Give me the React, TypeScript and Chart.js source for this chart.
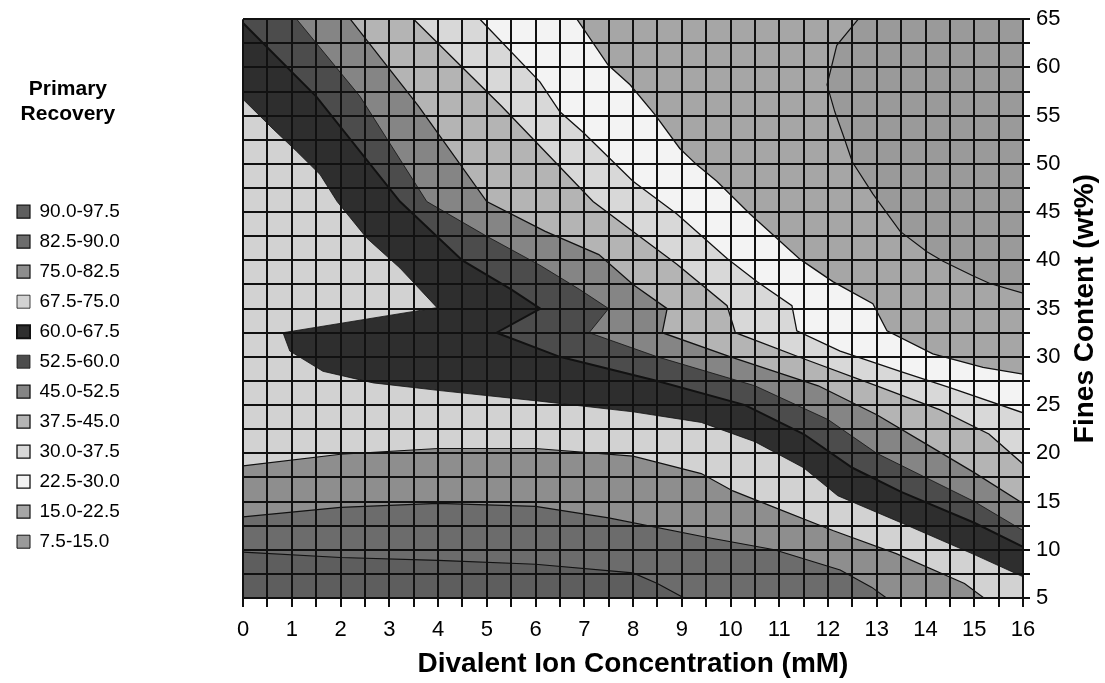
import React, { useEffect, useRef } from 'react';
import { Chart, registerables } from 'chart.js';

Chart.register(...registerables);

// ---- data -------------------------------------------------------------
// Recovery bands (legend order, highest first)
const bandLabels = [
  '90.0-97.5', '82.5-90.0', '75.0-82.5', '67.5-75.0', '60.0-67.5', '52.5-60.0',
  '45.0-52.5', '37.5-45.0', '30.0-37.5', '22.5-30.0', '15.0-22.5', '7.5-15.0',
];

// Contour lines [divalent ion (mM), fines content (wt%)], each bounding the
// region of higher recovery that lies toward the lower-left of the plot.
const contour90: number[][] = [[0, 9.75], [2, 9.2], [4, 8.9], [6, 8.5], [8, 7.6], [8.5, 6.5], [9.05, 5]];
const contour82: number[][] = [[0, 13.4], [2, 14.4], [4, 14.8], [6, 14.5], [7.5, 13.3], [9.5, 11.3], [10.9, 10.0], [12.25, 7.9], [12.9, 6.1], [13.2, 5]];
const contour75: number[][] = [[0, 18.7], [2, 19.9], [4, 20.5], [6, 20.5], [8, 19.7], [9.4, 17.9], [10.05, 16.1], [10.9, 14.4], [12.1, 12.0], [13.4, 9.6], [14.8, 6.5], [15.2, 5]];
const contour67: number[][] = [[0, 56.7], [0.62, 53.6], [1.1, 51.3], [1.58, 48.9], [1.93, 46.1], [2.54, 42.3], [3.22, 39.2], [3.98, 35.1], [0.82, 32.5], [0.96, 30.6], [1.64, 28.5], [2.67, 27.3], [4.04, 26.5], [6.09, 25.4], [8, 24.3], [9.4, 23.2], [10.5, 21.2], [11.5, 18.5], [12.2, 15.6], [13.5, 12.8], [15, 9.5], [16, 7.2]];
const contour60: number[][] = [[0, 64.6], [1.5, 57], [3.22, 46.1], [4.5, 40], [5.5, 37], [6.1, 35], [5.2, 32.5], [6.5, 30], [8.5, 27.5], [10.3, 25], [11.5, 22], [12.5, 18.5], [13.5, 16], [15, 12.8], [16, 10.3]];
const contour52: number[][] = [[0, 65], [1.1, 65], [2.4, 57], [3.77, 46.1], [5.0, 42.5], [6.09, 39.5], [6.9, 37], [7.5, 35], [7.1, 32.5], [8.5, 30], [10.5, 27], [12, 23.5], [13, 20], [14, 17.5], [15, 15], [16, 12]];
const contour45: number[][] = [[0, 65], [2.2, 65], [3.6, 56], [5.0, 46.1], [6.2, 43], [7.3, 40.6], [8.0, 37.5], [8.7, 35], [8.6, 32.5], [10, 30], [11.8, 27], [13, 24], [14, 21], [15, 18], [16, 14.8]];
const contour37: number[][] = [[0, 65], [3.5, 65], [5.3, 56], [7.18, 46.1], [8.0, 43], [8.9, 39.6], [9.93, 35.3], [10.1, 32.5], [11.5, 29.8], [13, 27], [14.3, 24.5], [15.3, 22], [16, 18.9]];
const contour30: number[][] = [[0, 65], [4.86, 65], [6.09, 58.5], [6.5, 55.4], [6.97, 53.3], [8.0, 48.2], [8.9, 44.8], [9.93, 40.2], [10.54, 37.8], [11.26, 35.3], [11.36, 32.7], [12.25, 30.6], [13.48, 28.5], [14.5, 26.8], [16, 24.2]];
const contour22: number[][] = [[0, 65], [6.85, 65], [7.49, 60.25], [7.94, 58.2], [8.45, 55.1], [8.96, 51.6], [9.31, 49.9], [9.72, 48.2], [10.4, 44.8], [11.43, 40.1], [12.1, 37.8], [12.92, 35.5], [13.21, 32.7], [14.15, 30.3], [15.18, 28.9], [16, 28.2]];
const contour15: number[][] = [[0, 65], [12.62, 65], [12.18, 62.3], [11.98, 58.2], [12.14, 55.4], [12.31, 53], [12.5, 50.2], [12.92, 46.9], [13.48, 43], [14.03, 40.9], [14.36, 39.9], [14.97, 38.4], [15.32, 37.6], [16, 36.6]];
const contourAll: number[][] = [[0, 65], [16, 65]];

const contours = [contour90, contour82, contour75, contour67, contour60, contour52, contour45, contour37, contour30, contour22, contour15, contourAll];

const xTickLabels = ['0', '1', '2', '3', '4', '5', '6', '7', '8', '9', '10', '11', '12', '13', '14', '15', '16'];
const yTickLabels = ['5', '10', '15', '20', '25', '30', '35', '40', '45', '50', '55', '60', '65'];

// ---- styles -----------------------------------------------------------
const bandColors = [
  '#5e5e5e', '#6c6c6c', '#8e8e8e', '#d2d2d2', '#2e2e2e', '#4c4c4c',
  '#858585', '#b4b4b4', '#d8d8d8', '#f3f3f3', '#a6a6a6', '#9a9a9a',
];
const bandLineWidths = [1.2, 1.2, 1.2, 0.8, 2, 0.8, 1.3, 1.3, 1.3, 1.3, 1.2, 1];

const FONT = "'Liberation Sans', Arial, Helvetica, sans-serif";

const rightTitle = {
  id: 'rightTitle',
  afterDraw(chart: any) {
    const { ctx, chartArea } = chart;
    ctx.save();
    ctx.translate(1085, (chartArea.top + chartArea.bottom) / 2);
    ctx.rotate(-Math.PI / 2);
    ctx.font = `bold 28px ${FONT}`;
    ctx.fillStyle = '#000';
    ctx.textAlign = 'center';
    ctx.textBaseline = 'middle';
    ctx.fillText('Fines Content (wt%)', 0, 0);
    ctx.restore();
  },
};

export default function App() {
  const ref = useRef<HTMLCanvasElement>(null);

  useEffect(() => {
    if (!ref.current) return;
    const datasets = contours.map((pts, i) => ({
      label: bandLabels[i],
      data: pts.map(([x, y]) => ({ x, y })),
      yAxisID: 'y',
      xAxisID: 'x',
      backgroundColor: bandColors[i],
      borderColor: '#111',
      borderWidth: bandLineWidths[i],
      fill: 'start',
      tension: 0,
      pointRadius: 0,
      pointHoverRadius: 0,
      pointHitRadius: 0,
    }));

    const chart = new Chart(ref.current, {
      type: 'line',
      data: { datasets },
      plugins: [rightTitle],
      options: {
        animation: false,
        responsive: false,
        events: [],
        layout: { padding: { left: 6, top: 17, right: 0, bottom: 0 } },
        plugins: {
          tooltip: { enabled: false },
          legend: {
            position: 'left',
            align: 'start',
            title: {
              display: true,
              text: ['Primary', 'Recovery'],
              color: '#000',
              font: { family: FONT, size: 21, weight: 'bold' },
              padding: { top: 62, bottom: 87 },
            },
            labels: {
              color: '#000',
              font: { family: FONT, size: 19 },
              boxWidth: 13,
              boxHeight: 13,
              padding: 11,
            },
          },
        },
        scales: {
          x: {
            type: 'linear',
            position: 'bottom',
            min: 0,
            max: 16,
            afterFit: (s: any) => { s.height = 85; },
            ticks: {
              stepSize: 0.5,
              autoSkip: false,
              maxRotation: 0,
              padding: 10,
              color: '#000',
              font: { family: FONT, size: 22 },
              callback: (v: any) => (Number.isInteger(Number(v)) ? xTickLabels[Number(v)] : ''),
            },
            grid: { color: '#111', lineWidth: 2, tickLength: 9, z: 1 },
            border: { display: false },
            title: {
              display: true,
              text: 'Divalent Ion Concentration (mM)',
              color: '#000',
              font: { family: FONT, size: 28, weight: 'bold' },
              padding: { top: 0, bottom: 2 },
            },
          },
          yPad: {
            type: 'linear',
            position: 'left',
            display: true,
            ticks: { display: false },
            grid: { display: false, drawTicks: false },
            border: { display: false },
            afterFit: (s: any) => {
              const lg = s.chart.legend;
              s.width = Math.max(0, 243 - 6 - (lg && lg.width ? lg.width : 134));
            },
          },
          y: {
            type: 'linear',
            position: 'right',
            min: 5,
            max: 65,
            afterFit: (s: any) => { s.width = 82; },
            ticks: {
              stepSize: 2.5,
              autoSkip: false,
              padding: 6,
              color: '#000',
              font: { family: FONT, size: 22 },
              callback: (v: any) => {
                const n = Number(v);
                return n % 5 === 0 ? yTickLabels[(n - 5) / 5] : '';
              },
            },
            grid: { color: '#111', lineWidth: 2, tickLength: 7, z: 1 },
            border: { display: false },
          },
        },
      } as any,
    });
    return () => chart.destroy();
  }, []);

  return (
    <div style={{ position: 'absolute', left: 0, top: 0, width: 1105, height: 683, background: '#fff' }}>
      <canvas ref={ref} width={1105} height={683} style={{ display: 'block', width: 1105, height: 683 }} />
    </div>
  );
}
